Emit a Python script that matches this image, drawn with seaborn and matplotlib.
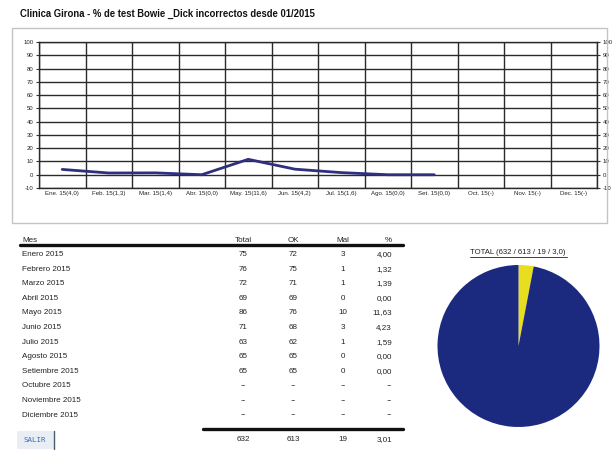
import matplotlib
matplotlib.use("Agg")
import matplotlib.pyplot as plt
import seaborn as sns
import pandas as pd
from matplotlib.patches import Rectangle

sns.set_theme(style="white")
plt.rcParams["font.family"] = ["Liberation Sans", "DejaVu Sans"]

# ---- data ----
month_labels = ["Ene. 15(4,0)", "Feb. 15(1,3)", "Mar. 15(1,4)", "Abr. 15(0,0)",
                "May. 15(11,6)", "Jun. 15(4,2)", "Jul. 15(1,6)", "Ago. 15(0,0)",
                "Set. 15(0,0)", "Oct. 15(-)", "Nov. 15(-)", "Dec. 15(-)"]
pct_values = [4.0, 1.3, 1.4, 0.0, 11.6, 4.2, 1.6, 0.0, 0.0]

table_months = ["Enero 2015", "Febrero 2015", "Marzo 2015", "Abril 2015", "Mayo 2015",
                "Junio 2015", "Julio 2015", "Agosto 2015", "Setiembre 2015",
                "Octubre 2015", "Noviembre 2015", "Diciembre 2015"]
col_total = ["75", "76", "72", "69", "86", "71", "63", "65", "65", "--", "--", "--"]
col_ok = ["72", "75", "71", "69", "76", "68", "62", "65", "65", "--", "--", "--"]
col_mal = ["3", "1", "1", "0", "10", "3", "1", "0", "0", "--", "--", "--"]
col_pct = ["4,00", "1,32", "1,39", "0,00", "11,63", "4,23", "1,59", "0,00", "0,00", "--", "--", "--"]
totals = ["632", "613", "19", "3,01"]

pie_values = [19, 613]          # Mal, OK
pie_title = "TOTAL (632 / 613 / 19 / 3,0)"

W, H = 612, 450
fig = plt.figure(figsize=(W / 100, H / 100), dpi=100)
fig.patch.set_facecolor("white")


def fx(x):
    return x / W


def fy(y):
    return 1 - y / H


TXT = "#222222"

# title
fig.text(fx(20), fy(14), "Clinica Girona - % de test Bowie _Dick incorrectos desde 01/2015",
         fontsize=6.85, fontweight="bold", color="#111111", va="center", ha="left")

# frame around chart
fig.patches.append(Rectangle((fx(12), fy(223)), fx(607) - fx(12), fy(28) - fy(223),
                             transform=fig.transFigure, fill=False,
                             edgecolor="#c4c4c4", linewidth=1.0))

# ---- line chart ----
left, right, top, bottom = 39, 597, 42, 188
ax = fig.add_axes([fx(left), fy(bottom), fx(right) - fx(left), fy(top) - fy(bottom)])
df = pd.DataFrame({"x": [i + 0.5 for i in range(len(pct_values))], "pct": pct_values})
sns.lineplot(data=df, x="x", y="pct", ax=ax, color="#2e2f7e", linewidth=2.0)
ax.set_xlim(0, 12)
ax.set_ylim(-10, 100)
ax.set_yticks(range(-10, 101, 10))
ax.set_yticklabels([str(v) for v in range(-10, 101, 10)])
ax.set_xticks(range(0, 13))
ax.set_xticklabels([""] * 13)
ax.set_xticks([i + 0.5 for i in range(12)], minor=True)
ax.set_xticklabels(month_labels, minor=True)
ax.tick_params(axis="x", which="major", length=4, width=1, color="#333333", direction="out")
ax.tick_params(axis="x", which="minor", length=0, labelsize=4.4, labelcolor=TXT, pad=2)
ax.tick_params(axis="y", which="major", length=2.5, width=0.8, color="#333333",
               labelsize=4.3, labelcolor=TXT, left=True, right=True,
               labelleft=True, labelright=True, pad=1.5)
for v in range(-10, 101, 10):
    ax.axhline(v, color="#2a2a2a", linewidth=1.0, zorder=0)
for i in range(13):
    ax.axvline(i, color="#2a2a2a", linewidth=1.0, zorder=0)
for s in ax.spines.values():
    s.set_color("#2a2a2a")
    s.set_linewidth(1.0)
ax.set_xlabel("")
ax.set_ylabel("")
ax.set_facecolor("white")

# ---- table ----
fs = 5.8
head_y = 240
fig.text(fx(22), fy(head_y), "Mes", fontsize=fs, color=TXT, ha="left", va="center")
fig.text(fx(243), fy(head_y), "Total", fontsize=fs, color=TXT, ha="center", va="center")
fig.text(fx(293), fy(head_y), "OK", fontsize=fs, color=TXT, ha="center", va="center")
fig.text(fx(343), fy(head_y), "Mal", fontsize=fs, color=TXT, ha="center", va="center")
fig.text(fx(392), fy(head_y), "%", fontsize=fs, color=TXT, ha="right", va="center")
fig.add_artist(plt.Line2D([fx(20), fx(403)], [fy(245), fy(245)],
                          transform=fig.transFigure, color="#111111", linewidth=2.4))

row0, dy = 254.5, 14.6
for i, m in enumerate(table_months):
    y = fy(row0 + i * dy)
    fig.text(fx(22), y, m, fontsize=fs, color=TXT, ha="left", va="center")
    fig.text(fx(243), y, col_total[i], fontsize=fs, color=TXT, ha="center", va="center")
    fig.text(fx(293), y, col_ok[i], fontsize=fs, color=TXT, ha="center", va="center")
    fig.text(fx(343), y, col_mal[i], fontsize=fs, color=TXT, ha="center", va="center")
    fig.text(fx(392), y, col_pct[i], fontsize=fs, color=TXT, ha="right", va="center")

fig.add_artist(plt.Line2D([fx(203), fx(403)], [fy(429), fy(429)],
                          transform=fig.transFigure, color="#111111", linewidth=2.4))
ty = fy(439.5)
fig.text(fx(243), ty, totals[0], fontsize=fs, color=TXT, ha="center", va="center")
fig.text(fx(293), ty, totals[1], fontsize=fs, color=TXT, ha="center", va="center")
fig.text(fx(343), ty, totals[2], fontsize=fs, color=TXT, ha="center", va="center")
fig.text(fx(392), ty, totals[3], fontsize=fs, color=TXT, ha="right", va="center")

# SALIR button
fig.patches.append(Rectangle((fx(17), fy(449)), fx(54) - fx(17), fy(431) - fy(449),
                             transform=fig.transFigure, facecolor="#e8eef4",
                             edgecolor="none"))
fig.add_artist(plt.Line2D([fx(54), fx(54)], [fy(431), fy(449)],
                          transform=fig.transFigure, color="#4a5a6a", linewidth=1.0))
fig.text(fx(35), fy(440), "SALIR", fontsize=5.4, color="#3a6fb0", ha="center", va="center",
         family="DejaVu Sans Mono")

# ---- pie ----
cx, cy, r = 518.5, 346, 81
pax = fig.add_axes([fx(cx - r), fy(cy + r), fx(2 * r), fy(cy - r) - fy(cy + r)])
pax.pie(pie_values, colors=["#e6de1e", "#1b2a7e"], startangle=90, counterclock=False,
        radius=1.0, frame=False, wedgeprops={"linewidth": 0})
pax.set_xlim(-1.0, 1.0)
pax.set_ylim(-1.0, 1.0)
pax.set_aspect("equal")
pax.axis("off")
fig.text(fx(518), fy(252), pie_title, fontsize=5.6, color=TXT, ha="center", va="center")
fig.add_artist(plt.Line2D([fx(470), fx(567)], [fy(256.5), fy(256.5)],
                          transform=fig.transFigure, color=TXT, linewidth=0.6))

fig.savefig("out.png", dpi=100)
